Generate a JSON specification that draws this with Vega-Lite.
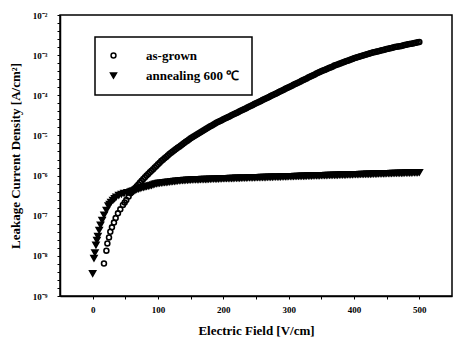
{
  "$schema": "https://vega.github.io/schema/vega-lite/v6.json",
  "width": 392,
  "height": 281,
  "autosize": {"type": "none"},
  "padding": {"left": 60, "top": 15, "right": 3, "bottom": 46},
  "background": "white",
  "data": {"values": [
    {"s":"as-grown","E":17.3,"logJ":-8.19},{"s":"as-grown","E":21,"logJ":-7.87},{"s":"as-grown","E":22.5,"logJ":-7.69},{"s":"as-grown","E":25,"logJ":-7.54},{"s":"as-grown","E":27,"logJ":-7.40},{"s":"as-grown","E":29.5,"logJ":-7.29},{"s":"as-grown","E":32.6,"logJ":-7.17},{"s":"as-grown","E":35.2,"logJ":-7.06},{"s":"as-grown","E":38.7,"logJ":-6.94},{"s":"as-grown","E":42.3,"logJ":-6.84},{"s":"as-grown","E":46.3,"logJ":-6.73},{"s":"as-grown","E":49,"logJ":-6.67},{"s":"as-grown","E":51.5,"logJ":-6.61},{"s":"as-grown","E":55,"logJ":-6.52},{"s":"as-grown","E":58,"logJ":-6.44},
    {"s":"as-grown","E":60,"logJ":-6.41},{"s":"as-grown","E":65,"logJ":-6.31},{"s":"as-grown","E":70,"logJ":-6.22},{"s":"as-grown","E":75,"logJ":-6.13},{"s":"as-grown","E":80,"logJ":-6.04},{"s":"as-grown","E":85,"logJ":-5.96},{"s":"as-grown","E":90,"logJ":-5.88},{"s":"as-grown","E":95,"logJ":-5.80},{"s":"as-grown","E":100,"logJ":-5.72},{"s":"as-grown","E":105,"logJ":-5.64},{"s":"as-grown","E":110,"logJ":-5.57},{"s":"as-grown","E":115,"logJ":-5.50},{"s":"as-grown","E":120,"logJ":-5.43},{"s":"as-grown","E":125,"logJ":-5.37},{"s":"as-grown","E":130,"logJ":-5.31},{"s":"as-grown","E":135,"logJ":-5.25},{"s":"as-grown","E":140,"logJ":-5.19},{"s":"as-grown","E":145,"logJ":-5.13},{"s":"as-grown","E":150,"logJ":-5.07},{"s":"as-grown","E":155,"logJ":-5.02},{"s":"as-grown","E":160,"logJ":-4.97},{"s":"as-grown","E":165,"logJ":-4.92},{"s":"as-grown","E":170,"logJ":-4.87},{"s":"as-grown","E":175,"logJ":-4.82},{"s":"as-grown","E":180,"logJ":-4.77},{"s":"as-grown","E":185,"logJ":-4.73},{"s":"as-grown","E":190,"logJ":-4.68},{"s":"as-grown","E":195,"logJ":-4.64},{"s":"as-grown","E":200,"logJ":-4.60},{"s":"as-grown","E":205,"logJ":-4.56},{"s":"as-grown","E":210,"logJ":-4.52},{"s":"as-grown","E":215,"logJ":-4.48},{"s":"as-grown","E":220,"logJ":-4.44},{"s":"as-grown","E":225,"logJ":-4.40},{"s":"as-grown","E":230,"logJ":-4.36},{"s":"as-grown","E":235,"logJ":-4.32},{"s":"as-grown","E":240,"logJ":-4.28},{"s":"as-grown","E":245,"logJ":-4.24},{"s":"as-grown","E":250,"logJ":-4.20},{"s":"as-grown","E":255,"logJ":-4.16},{"s":"as-grown","E":260,"logJ":-4.12},{"s":"as-grown","E":265,"logJ":-4.08},{"s":"as-grown","E":270,"logJ":-4.04},{"s":"as-grown","E":275,"logJ":-4.00},{"s":"as-grown","E":280,"logJ":-3.96},{"s":"as-grown","E":285,"logJ":-3.92},{"s":"as-grown","E":290,"logJ":-3.88},{"s":"as-grown","E":295,"logJ":-3.84},{"s":"as-grown","E":300,"logJ":-3.80},{"s":"as-grown","E":305,"logJ":-3.76},{"s":"as-grown","E":310,"logJ":-3.72},{"s":"as-grown","E":315,"logJ":-3.68},{"s":"as-grown","E":320,"logJ":-3.64},{"s":"as-grown","E":325,"logJ":-3.60},{"s":"as-grown","E":330,"logJ":-3.56},{"s":"as-grown","E":335,"logJ":-3.52},{"s":"as-grown","E":340,"logJ":-3.48},{"s":"as-grown","E":345,"logJ":-3.44},{"s":"as-grown","E":350,"logJ":-3.40},{"s":"as-grown","E":355,"logJ":-3.37},{"s":"as-grown","E":360,"logJ":-3.33},{"s":"as-grown","E":365,"logJ":-3.30},{"s":"as-grown","E":370,"logJ":-3.26},{"s":"as-grown","E":375,"logJ":-3.23},{"s":"as-grown","E":380,"logJ":-3.20},{"s":"as-grown","E":385,"logJ":-3.17},{"s":"as-grown","E":390,"logJ":-3.14},{"s":"as-grown","E":395,"logJ":-3.11},{"s":"as-grown","E":400,"logJ":-3.08},{"s":"as-grown","E":405,"logJ":-3.05},{"s":"as-grown","E":410,"logJ":-3.03},{"s":"as-grown","E":415,"logJ":-3.00},{"s":"as-grown","E":420,"logJ":-2.98},{"s":"as-grown","E":425,"logJ":-2.95},{"s":"as-grown","E":430,"logJ":-2.93},{"s":"as-grown","E":435,"logJ":-2.91},{"s":"as-grown","E":440,"logJ":-2.89},{"s":"as-grown","E":445,"logJ":-2.87},{"s":"as-grown","E":450,"logJ":-2.85},{"s":"as-grown","E":455,"logJ":-2.83},{"s":"as-grown","E":460,"logJ":-2.81},{"s":"as-grown","E":465,"logJ":-2.79},{"s":"as-grown","E":470,"logJ":-2.78},{"s":"as-grown","E":475,"logJ":-2.76},{"s":"as-grown","E":480,"logJ":-2.74},{"s":"as-grown","E":485,"logJ":-2.72},{"s":"as-grown","E":490,"logJ":-2.71},{"s":"as-grown","E":495,"logJ":-2.69},{"s":"as-grown","E":500,"logJ":-2.67},
    {"s":"as-grown","E":62.5,"logJ":-6.36},{"s":"as-grown","E":67.5,"logJ":-6.265},{"s":"as-grown","E":72.5,"logJ":-6.175},{"s":"as-grown","E":77.5,"logJ":-6.085},{"s":"as-grown","E":82.5,"logJ":-6.0},{"s":"as-grown","E":87.5,"logJ":-5.92},{"s":"as-grown","E":92.5,"logJ":-5.84},{"s":"as-grown","E":97.5,"logJ":-5.76},{"s":"as-grown","E":102.5,"logJ":-5.68},{"s":"as-grown","E":107.5,"logJ":-5.605},{"s":"as-grown","E":112.5,"logJ":-5.535},{"s":"as-grown","E":117.5,"logJ":-5.465},{"s":"as-grown","E":122.5,"logJ":-5.40},{"s":"as-grown","E":127.5,"logJ":-5.34},{"s":"as-grown","E":132.5,"logJ":-5.28},{"s":"as-grown","E":137.5,"logJ":-5.22},{"s":"as-grown","E":142.5,"logJ":-5.16},{"s":"as-grown","E":147.5,"logJ":-5.10},{"s":"as-grown","E":152.5,"logJ":-5.045},{"s":"as-grown","E":157.5,"logJ":-4.995},{"s":"as-grown","E":162.5,"logJ":-4.945},{"s":"as-grown","E":167.5,"logJ":-4.895},{"s":"as-grown","E":172.5,"logJ":-4.845},{"s":"as-grown","E":177.5,"logJ":-4.795},{"s":"as-grown","E":182.5,"logJ":-4.75},{"s":"as-grown","E":187.5,"logJ":-4.705},{"s":"as-grown","E":192.5,"logJ":-4.66},{"s":"as-grown","E":197.5,"logJ":-4.62},{"s":"as-grown","E":202.5,"logJ":-4.58},{"s":"as-grown","E":207.5,"logJ":-4.54},{"s":"as-grown","E":212.5,"logJ":-4.50},{"s":"as-grown","E":217.5,"logJ":-4.46},{"s":"as-grown","E":222.5,"logJ":-4.42},{"s":"as-grown","E":227.5,"logJ":-4.38},{"s":"as-grown","E":232.5,"logJ":-4.34},{"s":"as-grown","E":237.5,"logJ":-4.30},{"s":"as-grown","E":242.5,"logJ":-4.26},{"s":"as-grown","E":247.5,"logJ":-4.22},{"s":"as-grown","E":252.5,"logJ":-4.18},{"s":"as-grown","E":257.5,"logJ":-4.14},{"s":"as-grown","E":262.5,"logJ":-4.10},{"s":"as-grown","E":267.5,"logJ":-4.06},{"s":"as-grown","E":272.5,"logJ":-4.02},{"s":"as-grown","E":277.5,"logJ":-3.98},{"s":"as-grown","E":282.5,"logJ":-3.94},{"s":"as-grown","E":287.5,"logJ":-3.90},{"s":"as-grown","E":292.5,"logJ":-3.86},{"s":"as-grown","E":297.5,"logJ":-3.82},{"s":"as-grown","E":302.5,"logJ":-3.78},{"s":"as-grown","E":307.5,"logJ":-3.74},{"s":"as-grown","E":312.5,"logJ":-3.70},{"s":"as-grown","E":317.5,"logJ":-3.66},{"s":"as-grown","E":322.5,"logJ":-3.62},{"s":"as-grown","E":327.5,"logJ":-3.58},{"s":"as-grown","E":332.5,"logJ":-3.54},{"s":"as-grown","E":337.5,"logJ":-3.50},{"s":"as-grown","E":342.5,"logJ":-3.46},{"s":"as-grown","E":347.5,"logJ":-3.42},{"s":"as-grown","E":352.5,"logJ":-3.385},{"s":"as-grown","E":357.5,"logJ":-3.35},{"s":"as-grown","E":362.5,"logJ":-3.315},{"s":"as-grown","E":367.5,"logJ":-3.28},{"s":"as-grown","E":372.5,"logJ":-3.245},{"s":"as-grown","E":377.5,"logJ":-3.215},{"s":"as-grown","E":382.5,"logJ":-3.185},{"s":"as-grown","E":387.5,"logJ":-3.155},{"s":"as-grown","E":392.5,"logJ":-3.125},{"s":"as-grown","E":397.5,"logJ":-3.095},{"s":"as-grown","E":402.5,"logJ":-3.065},{"s":"as-grown","E":407.5,"logJ":-3.04},{"s":"as-grown","E":412.5,"logJ":-3.015},{"s":"as-grown","E":417.5,"logJ":-2.99},{"s":"as-grown","E":422.5,"logJ":-2.965},{"s":"as-grown","E":427.5,"logJ":-2.94},{"s":"as-grown","E":432.5,"logJ":-2.92},{"s":"as-grown","E":437.5,"logJ":-2.90},{"s":"as-grown","E":442.5,"logJ":-2.88},{"s":"as-grown","E":447.5,"logJ":-2.86},{"s":"as-grown","E":452.5,"logJ":-2.84},{"s":"as-grown","E":457.5,"logJ":-2.82},{"s":"as-grown","E":462.5,"logJ":-2.80},{"s":"as-grown","E":467.5,"logJ":-2.785},{"s":"as-grown","E":472.5,"logJ":-2.77},{"s":"as-grown","E":477.5,"logJ":-2.75},{"s":"as-grown","E":482.5,"logJ":-2.73},{"s":"as-grown","E":487.5,"logJ":-2.715},{"s":"as-grown","E":492.5,"logJ":-2.70},{"s":"as-grown","E":497.5,"logJ":-2.68},
    {"s":"annealing 600 ℃","E":0,"logJ":-8.44},{"s":"annealing 600 ℃","E":2,"logJ":-8.06},{"s":"annealing 600 ℃","E":3.5,"logJ":-7.92},{"s":"annealing 600 ℃","E":5,"logJ":-7.73},{"s":"annealing 600 ℃","E":6.5,"logJ":-7.61},{"s":"annealing 600 ℃","E":8,"logJ":-7.51},{"s":"annealing 600 ℃","E":10,"logJ":-7.36},{"s":"annealing 600 ℃","E":12,"logJ":-7.23},{"s":"annealing 600 ℃","E":14.5,"logJ":-7.11},{"s":"annealing 600 ℃","E":17.5,"logJ":-6.98},{"s":"annealing 600 ℃","E":21,"logJ":-6.86},{"s":"annealing 600 ℃","E":24,"logJ":-6.75},{"s":"annealing 600 ℃","E":26,"logJ":-6.71},{"s":"annealing 600 ℃","E":28,"logJ":-6.66},{"s":"annealing 600 ℃","E":31,"logJ":-6.61},{"s":"annealing 600 ℃","E":33.6,"logJ":-6.57},{"s":"annealing 600 ℃","E":36,"logJ":-6.53},{"s":"annealing 600 ℃","E":40,"logJ":-6.49},{"s":"annealing 600 ℃","E":44,"logJ":-6.46},{"s":"annealing 600 ℃","E":48,"logJ":-6.44},{"s":"annealing 600 ℃","E":53,"logJ":-6.42},{"s":"annealing 600 ℃","E":58,"logJ":-6.40},
    {"s":"annealing 600 ℃","E":60,"logJ":-6.39},{"s":"annealing 600 ℃","E":65,"logJ":-6.36},{"s":"annealing 600 ℃","E":70,"logJ":-6.33},{"s":"annealing 600 ℃","E":75,"logJ":-6.30},{"s":"annealing 600 ℃","E":80,"logJ":-6.28},{"s":"annealing 600 ℃","E":85,"logJ":-6.26},{"s":"annealing 600 ℃","E":90,"logJ":-6.24},{"s":"annealing 600 ℃","E":95,"logJ":-6.21},{"s":"annealing 600 ℃","E":100,"logJ":-6.19},{"s":"annealing 600 ℃","E":105,"logJ":-6.18},{"s":"annealing 600 ℃","E":110,"logJ":-6.17},{"s":"annealing 600 ℃","E":115,"logJ":-6.16},{"s":"annealing 600 ℃","E":120,"logJ":-6.15},{"s":"annealing 600 ℃","E":125,"logJ":-6.14},{"s":"annealing 600 ℃","E":130,"logJ":-6.13},{"s":"annealing 600 ℃","E":135,"logJ":-6.12},{"s":"annealing 600 ℃","E":140,"logJ":-6.115},{"s":"annealing 600 ℃","E":145,"logJ":-6.11},{"s":"annealing 600 ℃","E":150,"logJ":-6.105},{"s":"annealing 600 ℃","E":155,"logJ":-6.10},{"s":"annealing 600 ℃","E":160,"logJ":-6.10},{"s":"annealing 600 ℃","E":165,"logJ":-6.095},{"s":"annealing 600 ℃","E":170,"logJ":-6.09},{"s":"annealing 600 ℃","E":175,"logJ":-6.09},{"s":"annealing 600 ℃","E":180,"logJ":-6.085},{"s":"annealing 600 ℃","E":185,"logJ":-6.08},{"s":"annealing 600 ℃","E":190,"logJ":-6.08},{"s":"annealing 600 ℃","E":195,"logJ":-6.075},{"s":"annealing 600 ℃","E":200,"logJ":-6.07},{"s":"annealing 600 ℃","E":205,"logJ":-6.07},{"s":"annealing 600 ℃","E":210,"logJ":-6.065},{"s":"annealing 600 ℃","E":215,"logJ":-6.065},{"s":"annealing 600 ℃","E":220,"logJ":-6.06},{"s":"annealing 600 ℃","E":225,"logJ":-6.06},{"s":"annealing 600 ℃","E":230,"logJ":-6.055},{"s":"annealing 600 ℃","E":235,"logJ":-6.055},{"s":"annealing 600 ℃","E":240,"logJ":-6.05},{"s":"annealing 600 ℃","E":245,"logJ":-6.05},{"s":"annealing 600 ℃","E":250,"logJ":-6.045},{"s":"annealing 600 ℃","E":255,"logJ":-6.045},{"s":"annealing 600 ℃","E":260,"logJ":-6.04},{"s":"annealing 600 ℃","E":265,"logJ":-6.04},{"s":"annealing 600 ℃","E":270,"logJ":-6.035},{"s":"annealing 600 ℃","E":275,"logJ":-6.035},{"s":"annealing 600 ℃","E":280,"logJ":-6.03},{"s":"annealing 600 ℃","E":285,"logJ":-6.03},{"s":"annealing 600 ℃","E":290,"logJ":-6.025},{"s":"annealing 600 ℃","E":295,"logJ":-6.025},{"s":"annealing 600 ℃","E":300,"logJ":-6.02},{"s":"annealing 600 ℃","E":305,"logJ":-6.02},{"s":"annealing 600 ℃","E":310,"logJ":-6.015},{"s":"annealing 600 ℃","E":315,"logJ":-6.015},{"s":"annealing 600 ℃","E":320,"logJ":-6.01},{"s":"annealing 600 ℃","E":325,"logJ":-6.01},{"s":"annealing 600 ℃","E":330,"logJ":-6.005},{"s":"annealing 600 ℃","E":335,"logJ":-6.005},{"s":"annealing 600 ℃","E":340,"logJ":-6.00},{"s":"annealing 600 ℃","E":345,"logJ":-6.00},{"s":"annealing 600 ℃","E":350,"logJ":-5.995},{"s":"annealing 600 ℃","E":355,"logJ":-5.995},{"s":"annealing 600 ℃","E":360,"logJ":-5.99},{"s":"annealing 600 ℃","E":365,"logJ":-5.99},{"s":"annealing 600 ℃","E":370,"logJ":-5.985},{"s":"annealing 600 ℃","E":375,"logJ":-5.985},{"s":"annealing 600 ℃","E":380,"logJ":-5.98},{"s":"annealing 600 ℃","E":385,"logJ":-5.98},{"s":"annealing 600 ℃","E":390,"logJ":-5.975},{"s":"annealing 600 ℃","E":395,"logJ":-5.975},{"s":"annealing 600 ℃","E":400,"logJ":-5.97},{"s":"annealing 600 ℃","E":405,"logJ":-5.97},{"s":"annealing 600 ℃","E":410,"logJ":-5.965},{"s":"annealing 600 ℃","E":415,"logJ":-5.965},{"s":"annealing 600 ℃","E":420,"logJ":-5.96},{"s":"annealing 600 ℃","E":425,"logJ":-5.96},{"s":"annealing 600 ℃","E":430,"logJ":-5.955},{"s":"annealing 600 ℃","E":435,"logJ":-5.955},{"s":"annealing 600 ℃","E":440,"logJ":-5.95},{"s":"annealing 600 ℃","E":445,"logJ":-5.95},{"s":"annealing 600 ℃","E":450,"logJ":-5.945},{"s":"annealing 600 ℃","E":455,"logJ":-5.945},{"s":"annealing 600 ℃","E":460,"logJ":-5.94},{"s":"annealing 600 ℃","E":465,"logJ":-5.94},{"s":"annealing 600 ℃","E":470,"logJ":-5.935},{"s":"annealing 600 ℃","E":475,"logJ":-5.935},{"s":"annealing 600 ℃","E":480,"logJ":-5.93},{"s":"annealing 600 ℃","E":485,"logJ":-5.93},{"s":"annealing 600 ℃","E":490,"logJ":-5.925},{"s":"annealing 600 ℃","E":495,"logJ":-5.925},{"s":"annealing 600 ℃","E":500,"logJ":-5.92},
    {"s":"annealing 600 ℃","E":62.5,"logJ":-6.375},{"s":"annealing 600 ℃","E":67.5,"logJ":-6.345},{"s":"annealing 600 ℃","E":72.5,"logJ":-6.315},{"s":"annealing 600 ℃","E":77.5,"logJ":-6.29},{"s":"annealing 600 ℃","E":82.5,"logJ":-6.27},{"s":"annealing 600 ℃","E":87.5,"logJ":-6.25},{"s":"annealing 600 ℃","E":92.5,"logJ":-6.225},{"s":"annealing 600 ℃","E":97.5,"logJ":-6.20},{"s":"annealing 600 ℃","E":102.5,"logJ":-6.185},{"s":"annealing 600 ℃","E":107.5,"logJ":-6.175},{"s":"annealing 600 ℃","E":112.5,"logJ":-6.165},{"s":"annealing 600 ℃","E":117.5,"logJ":-6.155},{"s":"annealing 600 ℃","E":122.5,"logJ":-6.145},{"s":"annealing 600 ℃","E":127.5,"logJ":-6.135},{"s":"annealing 600 ℃","E":132.5,"logJ":-6.125},{"s":"annealing 600 ℃","E":137.5,"logJ":-6.118},{"s":"annealing 600 ℃","E":142.5,"logJ":-6.112},{"s":"annealing 600 ℃","E":147.5,"logJ":-6.108},{"s":"annealing 600 ℃","E":152.5,"logJ":-6.102},{"s":"annealing 600 ℃","E":157.5,"logJ":-6.10},{"s":"annealing 600 ℃","E":162.5,"logJ":-6.098},{"s":"annealing 600 ℃","E":167.5,"logJ":-6.092},{"s":"annealing 600 ℃","E":172.5,"logJ":-6.09},{"s":"annealing 600 ℃","E":177.5,"logJ":-6.088},{"s":"annealing 600 ℃","E":182.5,"logJ":-6.082},{"s":"annealing 600 ℃","E":187.5,"logJ":-6.08},{"s":"annealing 600 ℃","E":192.5,"logJ":-6.078},{"s":"annealing 600 ℃","E":197.5,"logJ":-6.072},{"s":"annealing 600 ℃","E":202.5,"logJ":-6.07},{"s":"annealing 600 ℃","E":207.5,"logJ":-6.068},{"s":"annealing 600 ℃","E":212.5,"logJ":-6.065},{"s":"annealing 600 ℃","E":217.5,"logJ":-6.062},{"s":"annealing 600 ℃","E":222.5,"logJ":-6.06},{"s":"annealing 600 ℃","E":227.5,"logJ":-6.058},{"s":"annealing 600 ℃","E":232.5,"logJ":-6.055},{"s":"annealing 600 ℃","E":237.5,"logJ":-6.052},{"s":"annealing 600 ℃","E":242.5,"logJ":-6.05},{"s":"annealing 600 ℃","E":247.5,"logJ":-6.048},{"s":"annealing 600 ℃","E":252.5,"logJ":-6.045},{"s":"annealing 600 ℃","E":257.5,"logJ":-6.042},{"s":"annealing 600 ℃","E":262.5,"logJ":-6.04},{"s":"annealing 600 ℃","E":267.5,"logJ":-6.038},{"s":"annealing 600 ℃","E":272.5,"logJ":-6.035},{"s":"annealing 600 ℃","E":277.5,"logJ":-6.032},{"s":"annealing 600 ℃","E":282.5,"logJ":-6.03},{"s":"annealing 600 ℃","E":287.5,"logJ":-6.028},{"s":"annealing 600 ℃","E":292.5,"logJ":-6.025},{"s":"annealing 600 ℃","E":297.5,"logJ":-6.022},{"s":"annealing 600 ℃","E":302.5,"logJ":-6.02},{"s":"annealing 600 ℃","E":307.5,"logJ":-6.018},{"s":"annealing 600 ℃","E":312.5,"logJ":-6.015},{"s":"annealing 600 ℃","E":317.5,"logJ":-6.012},{"s":"annealing 600 ℃","E":322.5,"logJ":-6.01},{"s":"annealing 600 ℃","E":327.5,"logJ":-6.008},{"s":"annealing 600 ℃","E":332.5,"logJ":-6.005},{"s":"annealing 600 ℃","E":337.5,"logJ":-6.002},{"s":"annealing 600 ℃","E":342.5,"logJ":-6.0},{"s":"annealing 600 ℃","E":347.5,"logJ":-5.998},{"s":"annealing 600 ℃","E":352.5,"logJ":-5.995},{"s":"annealing 600 ℃","E":357.5,"logJ":-5.992},{"s":"annealing 600 ℃","E":362.5,"logJ":-5.99},{"s":"annealing 600 ℃","E":367.5,"logJ":-5.988},{"s":"annealing 600 ℃","E":372.5,"logJ":-5.985},{"s":"annealing 600 ℃","E":377.5,"logJ":-5.982},{"s":"annealing 600 ℃","E":382.5,"logJ":-5.98},{"s":"annealing 600 ℃","E":387.5,"logJ":-5.978},{"s":"annealing 600 ℃","E":392.5,"logJ":-5.975},{"s":"annealing 600 ℃","E":397.5,"logJ":-5.972},{"s":"annealing 600 ℃","E":402.5,"logJ":-5.97},{"s":"annealing 600 ℃","E":407.5,"logJ":-5.968},{"s":"annealing 600 ℃","E":412.5,"logJ":-5.965},{"s":"annealing 600 ℃","E":417.5,"logJ":-5.962},{"s":"annealing 600 ℃","E":422.5,"logJ":-5.96},{"s":"annealing 600 ℃","E":427.5,"logJ":-5.958},{"s":"annealing 600 ℃","E":432.5,"logJ":-5.955},{"s":"annealing 600 ℃","E":437.5,"logJ":-5.952},{"s":"annealing 600 ℃","E":442.5,"logJ":-5.95},{"s":"annealing 600 ℃","E":447.5,"logJ":-5.948},{"s":"annealing 600 ℃","E":452.5,"logJ":-5.945},{"s":"annealing 600 ℃","E":457.5,"logJ":-5.942},{"s":"annealing 600 ℃","E":462.5,"logJ":-5.94},{"s":"annealing 600 ℃","E":467.5,"logJ":-5.938},{"s":"annealing 600 ℃","E":472.5,"logJ":-5.935},{"s":"annealing 600 ℃","E":477.5,"logJ":-5.932},{"s":"annealing 600 ℃","E":482.5,"logJ":-5.93},{"s":"annealing 600 ℃","E":487.5,"logJ":-5.928},{"s":"annealing 600 ℃","E":492.5,"logJ":-5.925},{"s":"annealing 600 ℃","E":497.5,"logJ":-5.922}
  ]},
  "mark": {"type": "point", "strokeWidth": 1.6, "opacity": 1},
  "encoding": {
    "x": {
      "field": "E", "type": "quantitative",
      "scale": {"domain": [-50, 550], "nice": false, "zero": false},
      "axis": {
        "title": "Electric Field [V/cm]",
        "values": [0, 50, 100, 150, 200, 250, 300, 350, 400, 450, 500],
        "labelExpr": "datum.value % 100 == 0 ? datum.label : ''",
        "tickSize": 3, "labelFontSize": 9, "labelPadding": 6,
        "titleFontSize": 13, "titlePadding": 10
      }
    },
    "y": {
      "field": "logJ", "type": "quantitative",
      "scale": {"domain": [-9, -2], "nice": false, "zero": false},
      "axis": {
        "title": "Leakage Current Density [A/cm²]",
        "values": [-9,-8.8,-8.6,-8.4,-8.2,-8,-7.8,-7.6,-7.4,-7.2,-7,-6.8,-6.6,-6.4,-6.2,-6,-5.8,-5.6,-5.4,-5.2,-5,-4.8,-4.6,-4.4,-4.2,-4,-3.8,-3.6,-3.4,-3.2,-3,-2.8,-2.6,-2.4,-2.2,-2],
        "labelExpr": "datum.value == round(datum.value) ? '10' + ['⁻⁹','⁻⁸','⁻⁷','⁻⁶','⁻⁵','⁻⁴','⁻³','⁻²'][datum.value + 9] : ''",
        "tickSize": 3, "labelFontSize": 9, "labelPadding": 10,
        "titleFontSize": 13, "titlePadding": 10
      }
    },
    "shape": {
      "field": "s", "type": "nominal",
      "scale": {"domain": ["as-grown", "annealing 600 ℃"], "range": ["circle", "triangle-down"]},
      "legend": {"title": null}
    },
    "fill": {
      "field": "s", "type": "nominal",
      "scale": {"domain": ["as-grown", "annealing 600 ℃"], "range": ["transparent", "black"]},
      "legend": {"title": null}
    },
    "stroke": {
      "field": "s", "type": "nominal",
      "scale": {"domain": ["as-grown", "annealing 600 ℃"], "range": ["black", "black"]},
      "legend": {"title": null}
    },
    "size": {
      "field": "s", "type": "nominal",
      "scale": {"domain": ["as-grown", "annealing 600 ℃"], "range": [24, 36]},
      "legend": {"title": null}
    }
  },
  "config": {
    "font": "Liberation Serif",
    "view": {"stroke": "black", "strokeWidth": 1.5},
    "axis": {"labelFontWeight": "bold", "titleFontWeight": "bold", "labelColor": "black", "titleColor": "black", "domainColor": "black", "tickColor": "black", "domainWidth": 1.5, "grid": false},
    "legend": {
      "orient": "none", "legendX": 35, "legendY": 22,
      "padding": 12, "strokeColor": "black", "fillColor": "white", "strokeWidth": 1.5,
      "labelFont": "Liberation Serif", "labelFontWeight": "bold", "labelFontSize": 13, "labelColor": "black",
      "labelOffset": 26, "rowPadding": 6, "symbolStrokeWidth": 1.5
    }
  }
}
